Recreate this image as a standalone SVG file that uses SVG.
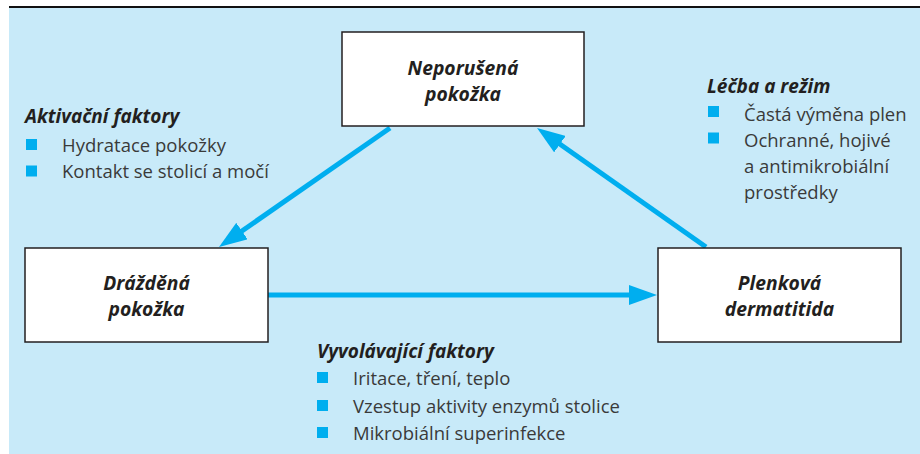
<svg xmlns="http://www.w3.org/2000/svg" width="920" height="454" viewBox="0 0 920 454">
<defs>
<style>
.box{fill:#fff;stroke:#231f20;stroke-width:1.5}
.bt{font-family:"Open Sans","Liberation Sans",sans-serif;font-weight:bold;font-style:italic;font-size:19.3px;fill:#231f20;text-anchor:middle}
.hd{font-family:"Open Sans","Liberation Sans",sans-serif;font-weight:bold;font-style:italic;font-size:19px;fill:#231f20}
.li{font-family:"Open Sans","Liberation Sans",sans-serif;font-size:18.5px;fill:#3a3a3a}
.bul{fill:#00aeef}
.con{stroke:#00aeef;stroke-width:5;fill:none}
</style>
<marker id="ah" markerUnits="userSpaceOnUse" markerWidth="28" markerHeight="20" refX="18" refY="10" orient="auto">
<path d="M0,0 L28,10 L0,20 z" fill="#00aeef"/>
</marker>
</defs>
<rect x="9" y="8" width="911" height="446" fill="#c8eaf9"/>
<line x1="9" y1="7" x2="920" y2="7" stroke="#111" stroke-width="2.2"/>
<g id="connectors">
<line class="con" x1="390" y1="128" x2="227.2" y2="241.3" marker-end="url(#ah)"/>
<line class="con" x1="706" y1="247" x2="545.2" y2="133.8" marker-end="url(#ah)"/>
<line class="con" x1="268" y1="295" x2="647" y2="295" marker-end="url(#ah)"/>
</g>
<g id="node-neporusena">
<rect class="box" x="342" y="32" width="242" height="94"/>
<text class="bt" x="463" y="75">Neporušená</text>
<text class="bt" x="463" y="101">pokožka</text>
</g>
<g id="node-drazdena">
<rect class="box" x="25" y="248" width="243" height="94"/>
<text class="bt" x="146.5" y="290">Drážděná</text>
<text class="bt" x="146.5" y="316">pokožka</text>
</g>
<g id="node-plenkova">
<rect class="box" x="658" y="248" width="243" height="94"/>
<text class="bt" x="779.5" y="290">Plenková</text>
<text class="bt" x="779.5" y="316">dermatitida</text>
</g>
<g id="list-aktivacni">
<text class="hd" x="25" y="123">Aktivační faktory</text>
<rect class="bul" x="26" y="139" width="11" height="11"/>
<text class="li" x="62" y="152">Hydratace pokožky</text>
<rect class="bul" x="26" y="165.5" width="11" height="11"/>
<text class="li" x="62" y="178">Kontakt se stolicí a močí</text>
</g>
<g id="list-lecba">
<text class="hd" x="707" y="93">Léčba a režim</text>
<rect class="bul" x="708" y="106" width="11" height="11"/>
<text class="li" x="744" y="121">Častá výměna plen</text>
<rect class="bul" x="708" y="132.5" width="11" height="11"/>
<text class="li" x="744" y="147">Ochranné, hojivé</text>
<text class="li" x="744" y="173">a antimikrobiální</text>
<text class="li" x="744" y="199">prostředky</text>
</g>
<g id="list-vyvolavajici">
<text class="hd" x="317" y="358">Vyvolávající faktory</text>
<rect class="bul" x="317" y="372" width="11" height="11"/>
<text class="li" x="353" y="385">Iritace, tření, teplo</text>
<rect class="bul" x="317" y="400" width="11" height="11"/>
<text class="li" x="353" y="412.5">Vzestup aktivity enzymů stolice</text>
<rect class="bul" x="317" y="427" width="11" height="11"/>
<text class="li" x="353" y="440">Mikrobiální superinfekce</text>
</g>
</svg>
